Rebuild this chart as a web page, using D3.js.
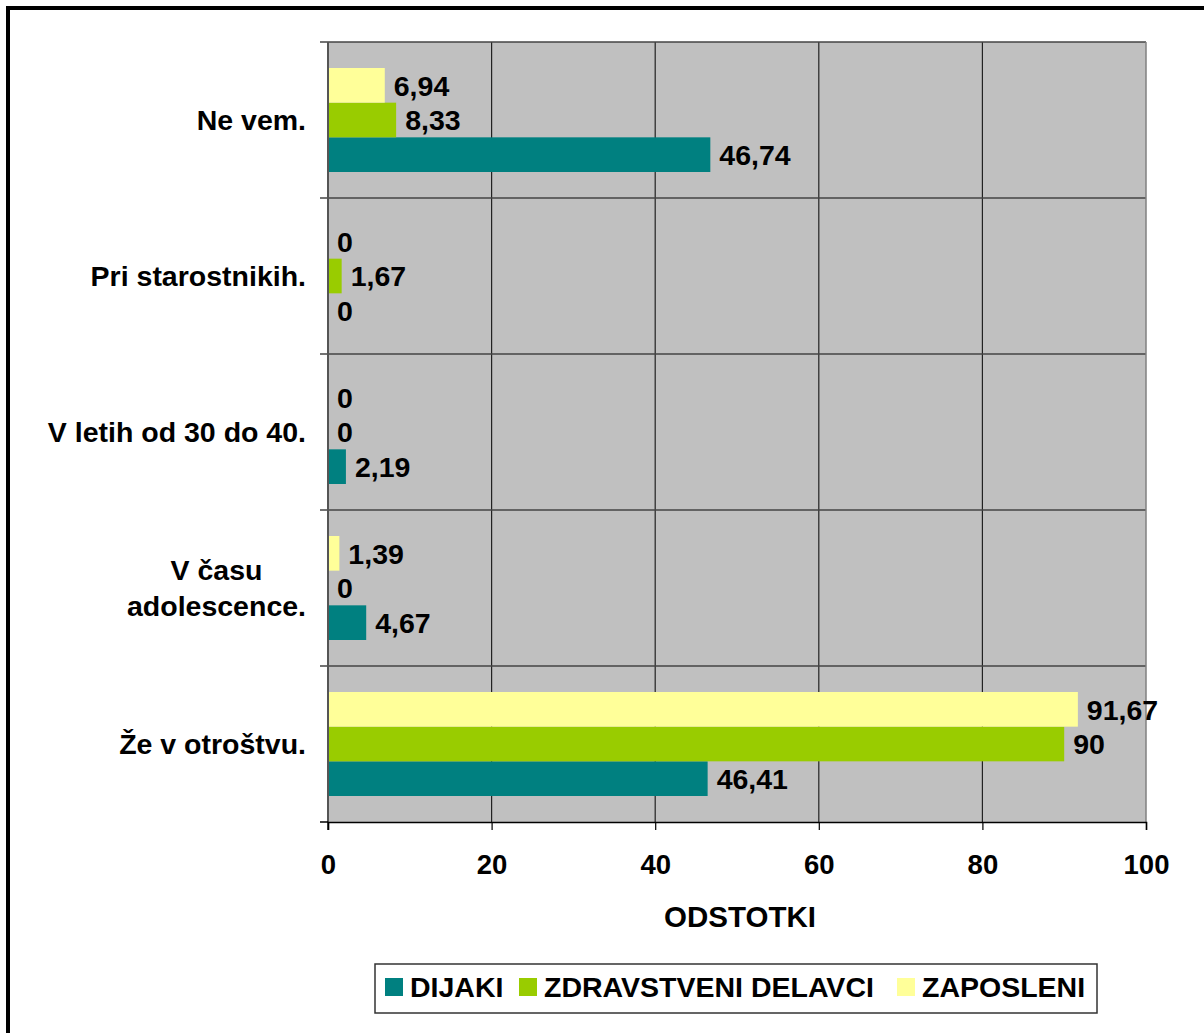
<!DOCTYPE html>
<html><head><meta charset="utf-8">
<script src="https://cdn.jsdelivr.net/npm/d3@7"></script>
<style>
html,body{margin:0;padding:0;background:#fff;}
svg{display:block;font-family:"Liberation Sans",Arial,sans-serif;font-weight:bold;}
</style></head>
<body>
<svg id="chart" width="1204" height="1033"></svg>
<script>
const categories = ["Ne vem.", "Pri starostnikih.", "V letih od 30 do 40.", "V času\nadolescence.", "Že v otroštvu."];
const seriesNames = ["DIJAKI", "ZDRAVSTVENI DELAVCI", "ZAPOSLENI"];
const dijaki = [46.74, 0, 2.19, 4.67, 46.41];
const zdravstveni = [8.33, 1.67, 0, 0, 90];
const zaposleni = [6.94, 0, 0, 1.39, 91.67];
const xTicks = [0, 20, 40, 60, 80, 100];
const colors = ["#008080", "#99CC00", "#FFFF99"];
const axisTitle = "ODSTOTKI";

(function () {
const seriesValues = [dijaki, zdravstveni, zaposleni];
const svg = d3.select("#chart");

// outer frame
svg.append("rect").attr("x", 8).attr("y", 8).attr("width", 1210).attr("height", 1040)
  .attr("fill", "#fff").attr("stroke", "#000").attr("stroke-width", 4);

const pL = 328, pR = 1146, pT = 42, pB = 822;
const x = d3.scaleLinear().domain([0, 100]).range([pL, pR]);
const y = d3.scaleBand().domain(categories).range([pT, pB]).paddingInner(0).paddingOuter(0);
// inner order top->bottom: ZAPOSLENI, ZDRAVSTVENI, DIJAKI
const yInner = d3.scaleBand().domain([2, 1, 0]).range([0, y.bandwidth()]).paddingOuter(0.75).paddingInner(0);

// plot background
svg.append("rect").attr("x", pL).attr("y", pT).attr("width", pR - pL).attr("height", pB - pT)
  .attr("fill", "#C0C0C0");

// vertical gridlines
svg.append("g").selectAll("line").data(xTicks.filter(t => t > 0 && t < 100)).join("line")
  .attr("x1", d => x(d)).attr("x2", d => x(d)).attr("y1", pT).attr("y2", pB)
  .attr("stroke", "#222").attr("stroke-width", 1.2);
// horizontal separators
svg.append("g").selectAll("line").data(categories).join("line")
  .attr("x1", pL - 8).attr("x2", pR).attr("y1", d => y(d)).attr("y2", d => y(d))
  .attr("stroke", "#444").attr("stroke-width", 1.5);
// right border
svg.append("line").attr("x1", pR).attr("x2", pR).attr("y1", pT).attr("y2", pB)
  .attr("stroke", "#808080").attr("stroke-width", 1.5);

// bars
seriesValues.forEach((vals, si) => {
  svg.append("g").selectAll("rect").data(vals).join("rect")
    .attr("x", x(0))
    .attr("y", (d, i) => y(categories[i]) + yInner(si))
    .attr("width", d => x(d) - x(0))
    .attr("height", yInner.bandwidth())
    .attr("fill", colors[si]);
});

// value labels
const fmt = v => String(v).replace(".", ",");
seriesValues.forEach((vals, si) => {
  svg.append("g").selectAll("text").data(vals).join("text")
    .attr("x", d => x(d) + 9)
    .attr("y", (d, i) => y(categories[i]) + yInner(si) + yInner.bandwidth() / 2)
    .attr("dy", "0.36em")
    .attr("font-size", 28.5).attr("fill", "#000")
    .text(d => fmt(d));
});

// y axis
svg.append("line").attr("x1", pL).attr("x2", pL).attr("y1", pT).attr("y2", pB + 8)
  .attr("stroke", "#555").attr("stroke-width", 2);
svg.append("line").attr("x1", pL - 8).attr("x2", pL).attr("y1", pB).attr("y2", pB)
  .attr("stroke", "#000").attr("stroke-width", 1.5);

// x axis
const xAxis = d3.axisBottom(x).tickValues(xTicks).tickSize(8).tickPadding(24).tickFormat(d3.format("d"));
const gx = svg.append("g").attr("transform", `translate(0,${pB})`).call(xAxis);
gx.select(".domain").attr("stroke", "#000").attr("stroke-width", 1.5);
gx.selectAll(".tick line").attr("stroke", "#000").attr("stroke-width", 1.2);
gx.selectAll(".tick text").attr("font-size", 27.5).attr("font-family", "Liberation Sans, Arial, sans-serif")
  .attr("font-weight", "bold").attr("fill", "#000");

// category labels
categories.forEach(c => {
  const lines = c.split("\n");
  const cy = y(c) + y.bandwidth() / 2;
  const lh = 36;
  const g = svg.append("g");
  const texts = lines.map((ln, i) => g.append("text")
    .attr("y", cy + (i - (lines.length - 1) / 2) * lh)
    .attr("dy", "0.36em").attr("font-size", 28.5).attr("fill", "#000").text(ln));
  if (lines.length === 1) {
    texts[0].attr("x", 306).attr("text-anchor", "end");
  } else {
    const w = d3.max(texts, t => t.node().getComputedTextLength());
    texts.forEach(t => t.attr("x", 306 - w / 2).attr("text-anchor", "middle"));
  }
});

// axis title
svg.append("text").attr("x", 740).attr("y", 916).attr("dy", "0.36em")
  .attr("text-anchor", "middle").attr("font-size", 29.5).attr("fill", "#000").text(axisTitle);

// legend
const lg = svg.append("g");
lg.append("rect").attr("x", 375).attr("y", 964).attr("width", 722).attr("height", 49)
  .attr("fill", "#fff").attr("stroke", "#333").attr("stroke-width", 1.5);
const legendX = [385, 519, 897];
seriesNames.forEach((n, i) => {
  lg.append("rect").attr("x", legendX[i]).attr("y", 978).attr("width", 18).attr("height", 18).attr("fill", colors[i]);
  lg.append("text").attr("x", legendX[i] + 25).attr("y", 987).attr("dy", "0.36em")
    .attr("font-size", 28.5).attr("fill", "#000").text(n);
});
})();
</script>
</body></html>
